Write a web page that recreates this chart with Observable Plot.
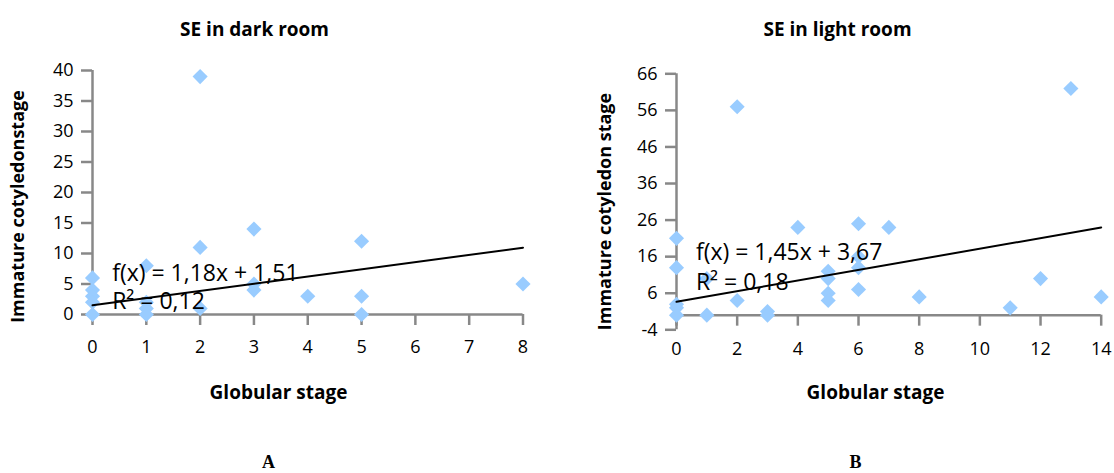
<!DOCTYPE html>
<html><head><meta charset="utf-8">
<script src="https://cdn.jsdelivr.net/npm/d3@7"></script>
<script src="https://cdn.jsdelivr.net/npm/@observablehq/plot@0.6"></script>
<style>
body{margin:0;background:#fff;}
#wrap{display:flex;width:1114px;height:473px;overflow:hidden;}
#wrap svg{display:block;}
</style></head><body><div id="wrap"></div>
<script>
// ---- data ----
const darkGlobular   = [0,0,0,0,0, 1,1,1,1, 2,2,2, 3,3,3, 4, 5,5,5, 8];
const darkCotyledon  = [6,4,3,2,0, 8,2,1,0, 39,11,1, 14,5,4, 3, 12,3,0, 5];
const lightGlobular  = [0,0,0,0,0, 1,1, 2,2, 3,3, 4, 5,5,5,5, 6,6,6,6, 7, 8, 11, 12, 13, 14];
const lightCotyledon = [21,13,3,2,0, 10,0, 57,4, 1,0, 24, 12,10,6,4, 25,16,13,7, 24, 5, 2, 10, 62, 5];
const darkXTicks  = [0,1,2,3,4,5,6,7,8];
const darkYTicks  = [0,5,10,15,20,25,30,35,40];
const lightXTicks = [0,2,4,6,8,10,12,14];
const lightYTicks = [-4,6,16,26,36,46,56,66];
const trendSlopes     = [1.18, 1.45];
const trendIntercepts = [1.51, 3.67];
const equationTexts = ["f(x) = 1,18x + 1,51", "f(x) = 1,45x + 3,67"];
const r2Texts       = ["R² = 0,12", "R² = 0,18"];
const chartTitles   = ["SE in dark room", "SE in light room"];
const yTitles       = ["Immature cotyledonstage", "Immature cotyledon stage"];
const xTitles       = ["Globular stage", "Globular stage"];
const panelLetters  = ["A", "B"];

const FONT = "'Open Sans', 'Noto Sans', sans-serif";
const GRAY = "#888888";

function panel(k, xs, ys, xTicks, yTicks, L) {
  const W = 557, H = 473;
  const xDom = [xTicks[0], xTicks[xTicks.length-1]];
  const yDom = [yTicks[0], yTicks[yTicks.length-1]];
  const plotH = H - L.mT - L.mB;
  const zeroOffset = (0 - yDom[0]) / (yDom[1] - yDom[0]) * plotH; // px from bottom to y=0
  const at = (text, px, py, o) => Plot.text([text], {
    frameAnchor: "top-left", dx: px - L.mL, dy: py - L.mT, text: d => d,
    textAnchor: "middle", lineAnchor: "middle",
    fill: "black", fontFamily: FONT, ...o
  });
  const idx = d3.range(xs.length);
  const trend = xDom.map(x => ({x, y: trendIntercepts[k] + trendSlopes[k] * x}));
  const eq = [
    {t: equationTexts[k], x: L.eqX, y: L.eqY},
    {t: r2Texts[k], x: L.eqX, y: L.r2Y}
  ];
  const marks = [
    Plot.ruleX([0], {stroke: GRAY, strokeWidth: 2.5}),
    Plot.ruleY([0], {stroke: GRAY, strokeWidth: 2.5}),
    Plot.axisY({ticks: yTicks, tickSize: 11, tickPadding: 8, stroke: GRAY, strokeWidth: 2.5,
      fill: "black", label: null, tickFormat: d => String(d), fontSize: 18}),
    Plot.axisX({ticks: xTicks, tickSize: 11, text: null, stroke: GRAY, strokeWidth: 2.5,
      label: null, dy: -zeroOffset}),
    Plot.axisX({ticks: xTicks, tickSize: 0, tickPadding: L.xPad, fill: "black",
      label: null, tickFormat: d => String(d), fontSize: 18}),
    Plot.dot(idx, {x: i => xs[i], y: i => ys[i], symbol: "diamond2", r: 6.8,
      fill: "#99ccff", stroke: "none"}),
    Plot.line(trend, {x: "x", y: "y", stroke: "black", strokeWidth: 2}),
    Plot.text(eq, {x: "x", y: "y", text: "t", textAnchor: "start", fontSize: 23,
      fill: "black", fontFamily: FONT}),
    at(chartTitles[k], L.titleX, 29, {fontWeight: "bold", fontSize: 19}),
    at(yTitles[k], L.yTitleX, L.yTitleY, {fontWeight: "bold", fontSize: 18, rotate: -90}),
    at(xTitles[k], L.xTitleX, 392, {fontWeight: "bold", fontSize: 19}),
    at(panelLetters[k], L.letterX, 462, {fontWeight: "bold", fontSize: 18,
      fontFamily: "'Liberation Serif', 'DejaVu Serif', serif"})
  ];
  return Plot.plot({
    width: W, height: H,
    marginLeft: L.mL, marginRight: L.mR, marginTop: L.mT, marginBottom: L.mB,
    x: {domain: xDom, axis: null},
    y: {domain: yDom, axis: null},
    style: {fontFamily: FONT, fontSize: "18px", color: "black", background: "white"},
    marks
  });
}

const wrap = document.getElementById("wrap");
wrap.append(panel(0, darkGlobular, darkCotyledon, darkXTicks, darkYTicks, {
  mL: 92, mR: 34.5, mT: 70, mB: 159, xPad: 26,
  eqX: 0.365, eqY: 6.67, r2Y: 2.06,
  titleX: 254, yTitleX: 18, yTitleY: 206, xTitleX: 278, letterX: 268
}));
wrap.append(panel(1, lightGlobular, lightCotyledon, lightXTicks, lightYTicks, {
  mL: 119, mR: 13.3, mT: 73.3, mB: 143.7, xPad: 12,
  eqX: 0.64, eqY: 17.0, r2Y: 8.8,
  titleX: 280, yTitleX: 48, yTitleY: 211, xTitleX: 318, letterX: 298
}));
</script></body></html>
